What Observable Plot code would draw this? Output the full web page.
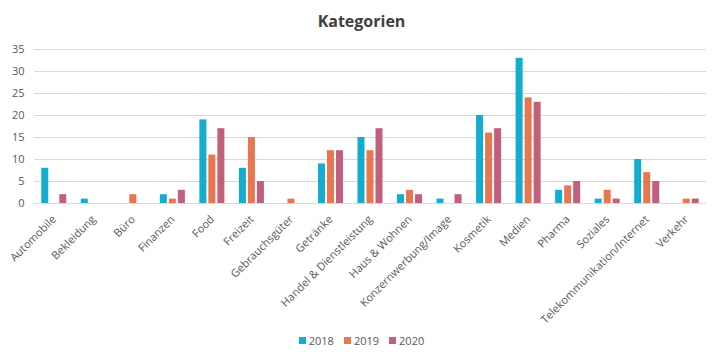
<!DOCTYPE html>
<html><head><meta charset="utf-8">
<script src="https://cdn.jsdelivr.net/npm/d3@7"></script>
<script src="https://cdn.jsdelivr.net/npm/@observablehq/plot@0.6"></script>
<style>
body{margin:0;background:#fff;font-family:"Open Sans",sans-serif;width:723px;height:361px;overflow:hidden}
#title{height:38px;line-height:42px;text-align:center;font-size:16px;font-weight:bold;color:#404040}
#legend{display:flex;justify-content:center;gap:10px;font-size:11px;color:#595959;height:24px;align-items:center;margin-left:0px}
#legend span.sw{display:inline-block;width:7px;height:7px;margin-right:3px}
#legend .item{display:flex;align-items:center}
</style></head>
<body>
<div id="title">Kategorien</div>
<div id="chart"></div>
<div id="legend"></div>
<script>
const categories = ["Automobile","Bekleidung","Büro","Finanzen","Food","Freizeit","Gebrauchsgüter","Getränke","Handel & Dienstleistung","Haus & Wohnen","Konzernwerbung/Image","Kosmetik","Medien","Pharma","Soziales","Telekommunikation/Internet","Verkehr"];
const years = ["2018","2019","2020"];
const values2018 = [8,1,0,2,19,8,0,9,15,2,1,20,33,3,1,10,0];
const values2019 = [0,0,2,1,11,15,1,12,12,3,0,16,24,4,3,7,1];
const values2020 = [2,0,0,3,17,5,0,12,17,2,2,17,23,5,1,5,1];
const yTicks = [0,5,10,15,20,25,30,35];
const colors = ["#14ADCF","#E8774F","#C2607B"];

const series = [values2018, values2019, values2020];
const data = [];
categories.forEach((c, i) => years.forEach((y, j) => data.push({category: c, year: y, value: series[j][i]})));

const chart = Plot.plot({
  width: 723, height: 290,
  marginLeft: 34, marginRight: 17, marginTop: 11, marginBottom: 125,
  style: {fontFamily: "Open Sans", fontSize: "11px", color: "#595959", background: "#fff"},
  fx: {domain: categories, padding: 0, label: null, round: false},
  x: {domain: years, paddingInner: 0, paddingOuter: 0.694, axis: null, round: false},
  y: {domain: [0, 35], label: null},
  color: {domain: years, range: colors},
  marks: [
    Plot.gridY(yTicks, {stroke: "#d9d9d9", strokeOpacity: 1}),
    Plot.axisY(yTicks, {tickSize: 0, tickPadding: 10, label: null, fill: "#595959"}),
    Plot.barY(data, {fx: "category", x: "year", y: "value", fill: "year", insetLeft: 1, insetRight: 1}),
    Plot.ruleY([0], {stroke: "#d9d9d9"}),
    Plot.axisFx({anchor: "bottom", tickRotate: -45, tickSize: 0, tickPadding: 14, label: null, fill: "#595959"})
  ]
});
document.getElementById("chart").appendChild(chart);

const legend = document.getElementById("legend");
years.forEach((y, j) => {
  const it = document.createElement("div");
  it.className = "item";
  it.innerHTML = `<span class="sw" style="background:${colors[j]}"></span>${y}`;
  legend.appendChild(it);
});
</script>
</body></html>
